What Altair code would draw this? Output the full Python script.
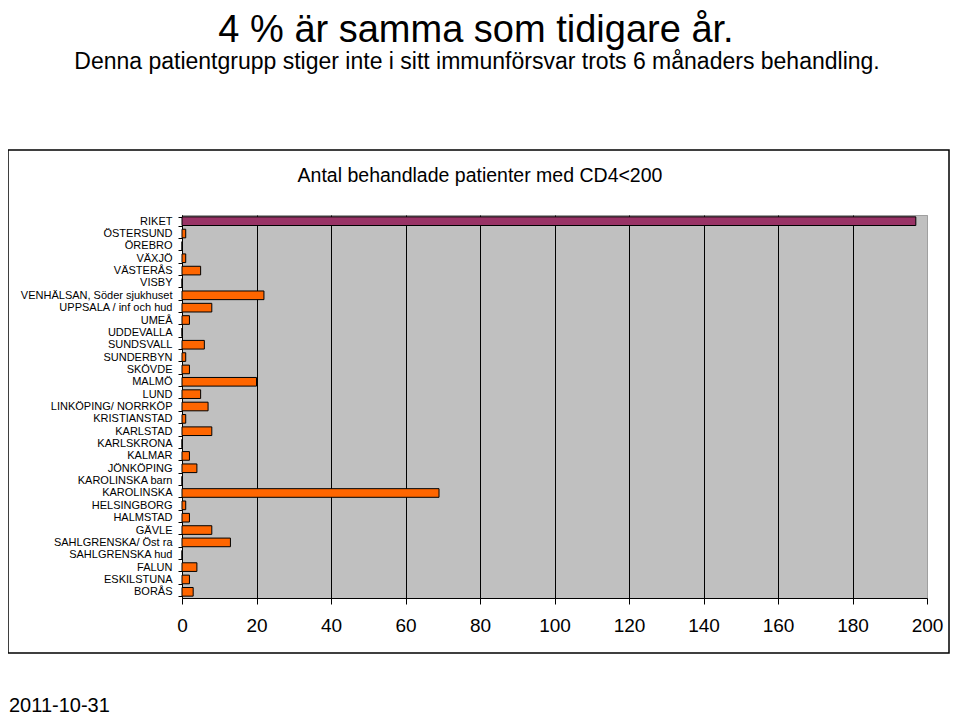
import altair as alt
import pandas as pd

categories = ["RIKET", "ÖSTERSUND", "ÖREBRO", "VÄXJÖ", "VÄSTERÅS", "VISBY",
              "VENHÄLSAN, Söder sjukhuset", "UPPSALA / inf och hud", "UMEÅ",
              "UDDEVALLA", "SUNDSVALL", "SUNDERBYN", "SKÖVDE", "MALMÖ", "LUND",
              "LINKÖPING/ NORRKÖP", "KRISTIANSTAD", "KARLSTAD", "KARLSKRONA",
              "KALMAR", "JÖNKÖPING", "KAROLINSKA barn", "KAROLINSKA",
              "HELSINGBORG", "HALMSTAD", "GÄVLE", "SAHLGRENSKA/ Öst ra",
              "SAHLGRENSKA hud", "FALUN", "ESKILSTUNA", "BORÅS"]
values = [197, 1, 0, 1, 5, 0,
          22, 8, 2,
          0, 6, 1, 2, 20, 5,
          7, 1, 8, 0,
          2, 4, 0, 69,
          1, 2, 8, 13,
          0, 4, 2, 3]
groups = ["Riket"] + ["Klinik"] * (len(categories) - 1)
x_ticks = [0, 20, 40, 60, 80, 100, 120, 140, 160, 180, 200]

headline = "4 % är samma som tidigare år."
subheadline = "Denna patientgrupp stiger inte i sitt immunförsvar trots 6 månaders behandling."
chart_title = "Antal behandlade patienter med CD4<200"
date_text = "2011-10-31"

df = pd.DataFrame({"klinik": categories, "antal": values, "grupp": groups})

FONT = "Liberation Sans"

bars = alt.Chart(df).mark_bar(stroke="black", strokeWidth=1).encode(
    y=alt.Y("klinik:N", sort=categories, title=None,
            scale=alt.Scale(paddingInner=0.3, paddingOuter=0.15),
            axis=alt.Axis(labelFont=FONT, labelFontSize=11, labelColor="black",
                          domainColor="black", tickColor="black", tickSize=4,
                          tickBand="extent", labelPadding=6, labelLimit=300)),
    x=alt.X("antal:Q", title=None,
            scale=alt.Scale(domain=[0, 200], nice=False),
            axis=alt.Axis(values=x_ticks, labelFont=FONT, labelFontSize=19,
                          labelColor="black", domainColor="black", tickColor="black",
                          tickSize=6, labelPadding=12, grid=True,
                          gridColor=alt.condition("datum.value === 200",
                                                  alt.value("#a0a0a0"),
                                                  alt.value("black")),
                          gridWidth=1, labelFlush=False)),
    color=alt.Color("grupp:N", legend=None,
                    scale=alt.Scale(domain=["Riket", "Klinik"],
                                    range=["#993366", "#FF6600"])),
)

frame = alt.Chart(pd.DataFrame({"f": [1]})).mark_rect(
    fill=None, stroke="black", strokeWidth=1.5).encode(
    x=alt.value(-174), x2=alt.value(767), y=alt.value(-65), y2=alt.value(438))

head = alt.Chart(pd.DataFrame({"t": [headline]})).mark_text(
    font=FONT, fontSize=38, color="black", align="center", baseline="alphabetic").encode(
    text="t:N", x=alt.value(294), y=alt.value(-173))
sub = alt.Chart(pd.DataFrame({"t": [subheadline]})).mark_text(
    font=FONT, fontSize=23, color="black", align="center", baseline="alphabetic").encode(
    text="t:N", x=alt.value(295), y=alt.value(-146))
ctitle = alt.Chart(pd.DataFrame({"t": [chart_title]})).mark_text(
    font=FONT, fontSize=19.5, color="black", align="center", baseline="middle").encode(
    text="t:N", x=alt.value(298), y=alt.value(-39))
date = alt.Chart(pd.DataFrame({"t": [date_text]})).mark_text(
    font=FONT, fontSize=20, color="black", align="left", baseline="middle").encode(
    text="t:N", x=alt.value(-173), y=alt.value(491))

chart = alt.layer(frame, bars, head, sub, ctitle, date).properties(
    width=745, height=383,
    autosize=alt.AutoSizeParams(type="none"),
    padding={"left": 174, "top": 207, "right": 25, "bottom": 118},
    background="white",
).configure_view(fill="#C0C0C0", stroke="#a0a0a0", strokeWidth=1)

chart.save("out.html", embed_options={"renderer": "svg", "actions": False})
